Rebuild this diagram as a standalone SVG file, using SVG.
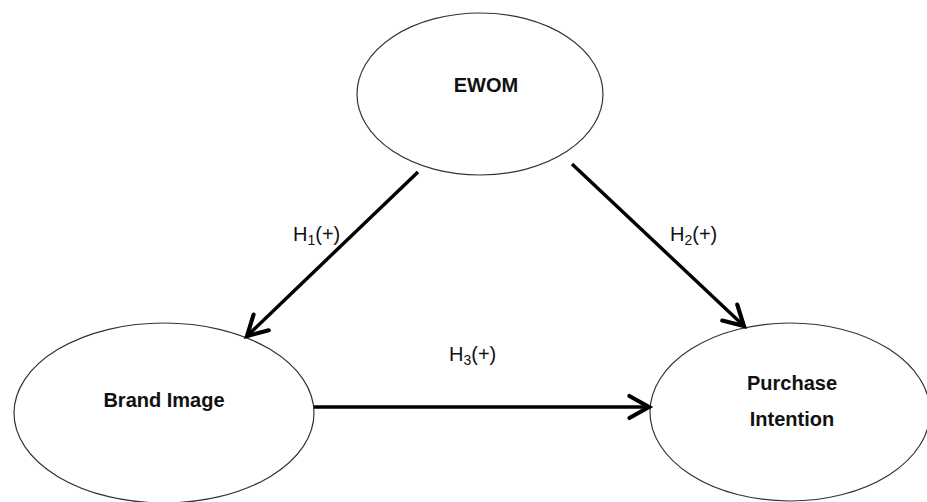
<svg xmlns="http://www.w3.org/2000/svg" width="927" height="502" viewBox="0 0 927 502">
  <defs>
    <marker id="chevron" markerUnits="userSpaceOnUse" markerWidth="30" markerHeight="30" viewBox="-22 -13 26 26" refX="0" refY="0" orient="auto">
      <path d="M-17,-9.5 L0,0 L-17,9.5" fill="none" stroke="#000" stroke-width="3.6" stroke-linecap="round" stroke-linejoin="miter"/>
    </marker>
    <style>
      .node ellipse { fill: #fff; stroke: #333; stroke-width: 1.2; }
      .node text { font-family: "Liberation Sans", Arial, sans-serif; font-weight: bold; font-size: 20px; fill: #111; text-anchor: middle; }
      .edge line { stroke: #000; stroke-width: 3.4; marker-end: url(#chevron); }
      .lbl { font-family: "Liberation Sans", Arial, sans-serif; font-size: 20px; fill: #111; }
      .sub { font-size: 14px; }
    </style>
  </defs>
  <rect width="927" height="502" fill="#fff"/>

  <g id="ewom" class="node">
    <ellipse cx="480" cy="94" rx="123" ry="81"/>
    <text x="486" y="92">EWOM</text>
  </g>

  <g id="brand-image" class="node">
    <ellipse cx="164" cy="413" rx="150" ry="90"/>
    <text x="164" y="407">Brand Image</text>
  </g>

  <g id="purchase-intention" class="node">
    <ellipse cx="790" cy="412" rx="140" ry="89"/>
    <text x="792" y="390">Purchase</text>
    <text x="792" y="426">Intention</text>
  </g>

  <g id="connectors" class="edge">
    <line x1="418" y1="172" x2="247" y2="336"/>
    <line x1="572" y1="164" x2="744" y2="326"/>
    <line x1="314" y1="407" x2="649" y2="407"/>
  </g>

  <g id="labels">
    <text class="lbl" x="293" y="241">H<tspan class="sub" dy="4">1</tspan><tspan dy="-4">(+)</tspan></text>
    <text class="lbl" x="670" y="241">H<tspan class="sub" dy="4">2</tspan><tspan dy="-4">(+)</tspan></text>
    <text class="lbl" x="449" y="361">H<tspan class="sub" dy="4">3</tspan><tspan dy="-4">(+)</tspan></text>
  </g>
</svg>
